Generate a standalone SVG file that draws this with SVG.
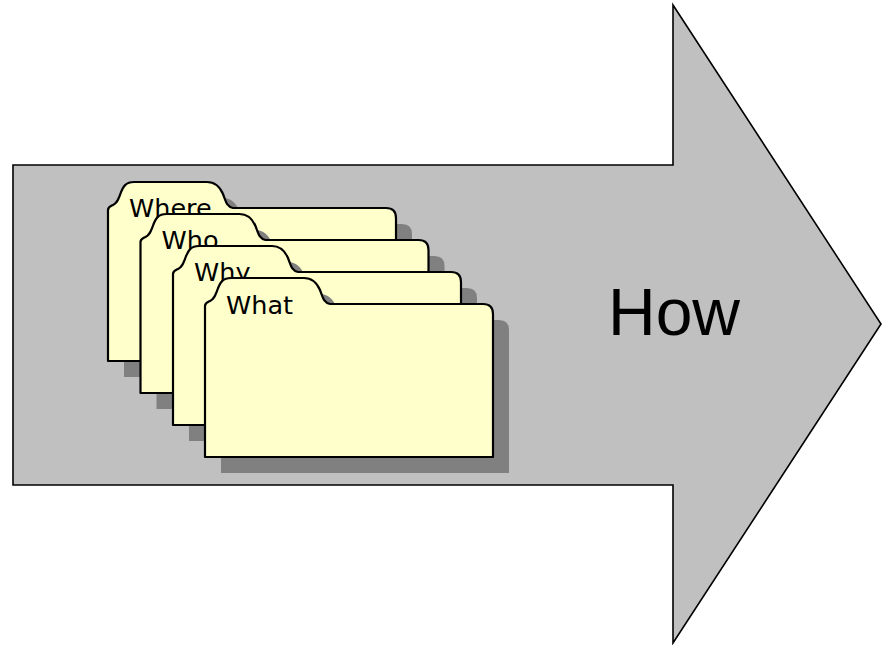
<svg xmlns="http://www.w3.org/2000/svg" width="882" height="645" viewBox="0 0 882 645">
<style>
.arrow{fill:#c0c0c0;stroke:#000;stroke-width:1.6;stroke-linejoin:miter}
.folder{fill:#ffffcc;stroke:#000;stroke-width:2.2;stroke-linejoin:round}
.shadow{fill:#808080;stroke:none}
.ftxt{font-family:"DejaVu Sans",Verdana,sans-serif;font-size:25.5px;fill:#000}
.how{font-family:"Liberation Sans",Arial,sans-serif;font-size:66px;fill:#000}
</style>
<defs>
<path id="fshape" d="M0,179 L0,28 C0,25 3,24 5,23 C9,21 10,18 12,13 C15,4 18,0 26,0 L99,0 C107,0 112,5 115,12 C118,20 119,25 125,26 L278,26 Q288,26 288,36 L288,179 Z"/>
</defs>
<g id="arrow">
<path class="arrow" d="M13,165 L673,165 L673,5 L881,324 L673,643 L673,485 L13,485 Z"/>
<text class="how" x="608" y="335">How</text>
</g>
<g id="folder-where" transform="translate(108,182)">
<use href="#fshape" class="shadow" x="16" y="16"/>
<use href="#fshape" class="folder"/>
<text class="ftxt" x="21" y="35">Where</text>
</g>
<g id="folder-who" transform="translate(140.5,214)">
<use href="#fshape" class="shadow" x="16" y="16"/>
<use href="#fshape" class="folder"/>
<text class="ftxt" x="21" y="35">Who</text>
</g>
<g id="folder-why" transform="translate(173,246)">
<use href="#fshape" class="shadow" x="16" y="16"/>
<use href="#fshape" class="folder"/>
<text class="ftxt" x="21" y="35">Why</text>
</g>
<g id="folder-what" transform="translate(205,278)">
<use href="#fshape" class="shadow" x="16" y="16"/>
<use href="#fshape" class="folder"/>
<text class="ftxt" x="21" y="36">What</text>
</g>
<g id="connectors"/>
</svg>
